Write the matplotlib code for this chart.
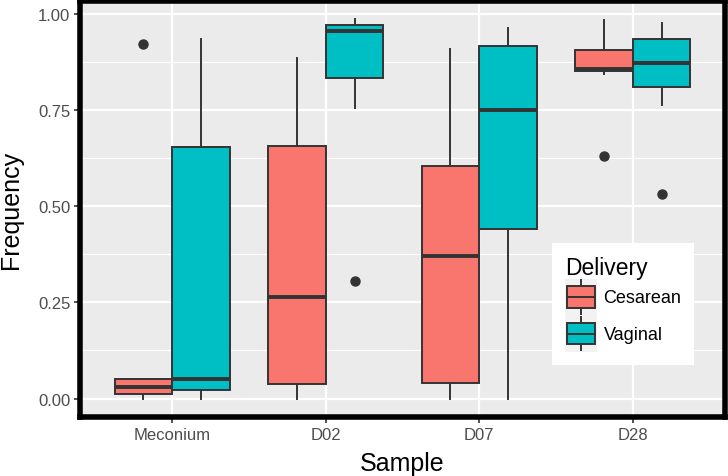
import numpy as np
import matplotlib.pyplot as plt
from matplotlib.patches import Rectangle, Patch
from matplotlib.lines import Line2D
from matplotlib.legend_handler import HandlerBase

plt.rcParams['font.family'] = ['Liberation Sans', 'DejaVu Sans']

# data
samples = ['Meconium', 'D02', 'D07', 'D28']
groups = ['Cesarean', 'Vaginal']
colors = {'Cesarean': '#F8766D', 'Vaginal': '#00BFC4'}

ces_whislo = [0.000, 0.000, 0.000, 0.844]
ces_q1 = [0.011, 0.037, 0.040, 0.850]
ces_med = [0.029, 0.264, 0.370, 0.855]
ces_q3 = [0.050, 0.656, 0.605, 0.906]
ces_whishi = [0.050, 0.884, 0.907, 0.984]
ces_fliers = [[0.920], [], [], [0.630]]

vag_whislo = [0.000, 0.755, 0.000, 0.762]
vag_q1 = [0.021, 0.832, 0.440, 0.810]
vag_med = [0.050, 0.955, 0.750, 0.873]
vag_q3 = [0.654, 0.970, 0.915, 0.935]
vag_whishi = [0.935, 0.985, 0.964, 0.975]
vag_fliers = [[], [0.305], [], [0.532]]

stats = {
    'Cesarean': (ces_whislo, ces_q1, ces_med, ces_q3, ces_whishi, ces_fliers),
    'Vaginal': (vag_whislo, vag_q1, vag_med, vag_q3, vag_whishi, vag_fliers),
}

edge = '#333333'
fig = plt.figure(figsize=(7.28, 4.77), dpi=100)
ax = fig.add_axes([80 / 728, 59 / 477, 645 / 728, 416 / 477])
ax.set_facecolor('#EBEBEB')

x = np.arange(1, len(samples) + 1)
width = 0.375
for i, g in enumerate(groups):
    lo, q1, med, q3, hi, fl = stats[g]
    bx = [dict(whislo=lo[k], q1=q1[k], med=med[k], q3=q3[k], whishi=hi[k], fliers=fl[k])
          for k in range(len(samples))]
    ax.bxp(bx, positions=x + (i - 0.5) * width, widths=width, patch_artist=True,
           showcaps=False, manage_ticks=False,
           boxprops=dict(facecolor=colors[g], edgecolor=edge, linewidth=1.4),
           whiskerprops=dict(color=edge, linewidth=1.4),
           medianprops=dict(color=edge, linewidth=2.8, solid_capstyle='butt'),
           flierprops=dict(marker='o', markerfacecolor=edge, markeredgecolor=edge, markersize=6.5))

ax.set_xlim(0.4, 4.6)
ax.set_ylim(-0.048, 1.033)
ax.set_xticks(x)
ax.set_xticklabels(samples)
ax.set_yticks([0, 0.25, 0.5, 0.75, 1.0])
ax.set_yticklabels(['0.00', '0.25', '0.50', '0.75', '1.00'])
ax.set_yticks([0.125, 0.375, 0.625, 0.875], minor=True)
ax.grid(True, which='major', color='white', linewidth=1.6)
ax.grid(True, which='minor', axis='y', color='white', linewidth=0.8)
ax.set_axisbelow(True)
ax.tick_params(axis='both', which='major', length=4, width=1.2, color=edge,
               labelcolor='#4D4D4D', labelsize=12, pad=3)
ax.tick_params(axis='y', which='minor', length=0)
for s in ax.spines.values():
    s.set_linewidth(4)
    s.set_color('black')

ax.set_xlabel('Sample', fontsize=18, labelpad=7)
ax.set_ylabel('Frequency', fontsize=18)
ax.yaxis.set_label_coords(-0.088, 0.5)


class BoxKey(HandlerBase):
    def create_artists(self, legend, orig_handle, xdescent, ydescent, width, height, fontsize, trans):
        bg = Rectangle((-xdescent, -ydescent), width, height, facecolor='#F2F2F2', edgecolor='none', transform=trans)
        wl = Line2D([-xdescent + width / 2] * 2, [-ydescent + 0.05 * height, -ydescent + 0.95 * height],
                    color=edge, lw=1.4, transform=trans)
        bw, bh = width * 0.86, height * 0.58
        bxr = Rectangle((-xdescent + (width - bw) / 2, -ydescent + (height - bh) / 2), bw, bh,
                        facecolor=orig_handle.get_facecolor(), edgecolor=edge, lw=1.4, transform=trans)
        ml = Line2D([-xdescent + (width - bw) / 2, -xdescent + (width + bw) / 2],
                    [-ydescent + height / 2] * 2, color=edge, lw=1.4, transform=trans)
        return [bg, wl, bxr, ml]


handles = [Patch(facecolor=colors[g]) for g in groups]
leg = ax.legend(handles, groups, title='Delivery', handler_map={Patch: BoxKey()},
                loc='upper left', bbox_to_anchor=(552 / 728, 1 - 244 / 477), bbox_transform=fig.transFigure,
                fontsize=13, title_fontsize=16.5, frameon=True, fancybox=False,
                handlelength=1.8, handleheight=2.75, labelspacing=0.0, handletextpad=0.35,
                borderpad=0.7, borderaxespad=0)
leg.get_frame().set_facecolor('white')
leg.get_frame().set_edgecolor('none')
leg.get_frame().set_alpha(1)
leg._legend_box.align = 'left'

fig.savefig('out.png', dpi=100)
